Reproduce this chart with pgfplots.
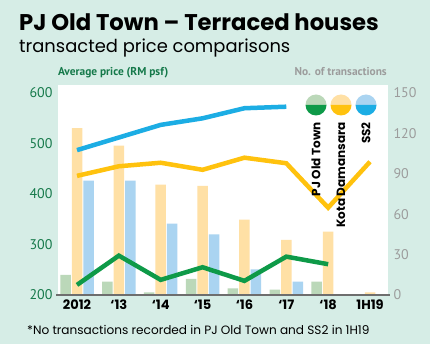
\documentclass[border=0pt]{standalone}
\usepackage{pgfplots}
\pgfplotsset{compat=1.18}
\usepackage{fontspec}
\setmainfont{Poppins}
\newfontfamily\tickfont{PT Sans}
\definecolor{bgc}{HTML}{D6EDE6}
\definecolor{cGline}{HTML}{0E9A48}
\definecolor{cGbar}{HTML}{BBD8B9}
\definecolor{cYline}{HTML}{FFC20E}
\definecolor{cYbar}{HTML}{FFE0A5}
\definecolor{cBline}{HTML}{1CADE4}
\definecolor{cBbar}{HTML}{AAD4F1}
\definecolor{gtick}{HTML}{15794A}
\definecolor{graytxt}{HTML}{9C9C9C}
\definecolor{axisgray}{HTML}{6E6E6E}
\begin{document}
\begin{tikzpicture}
\fill[bgc] (0pt,0pt) rectangle (430pt,-344pt);
% titles
\node[anchor=base west,inner sep=0pt,font=\fontsize{22.7}{24}\selectfont\bfseries] at (19pt,-31pt) {PJ Old Town – Terraced houses};
\node[anchor=base west,inner sep=0pt,font=\fontsize{17.9}{20}\selectfont] at (19pt,-53pt) {transacted price comparisons};
\node[anchor=base west,inner sep=0pt,text=gtick,font=\tickfont\fontsize{11.4}{12}\selectfont\bfseries] at (58pt,-76pt) {Average price (RM psf)};
\node[anchor=base east,inner sep=0pt,text=graytxt,font=\tickfont\fontsize{11.4}{12}\selectfont\bfseries] at (387pt,-76pt) {No. of transactions};
% bars (right axis)
\begin{axis}[at={(58pt,-295pt)},anchor=south west,scale only axis,
  width=330pt,height=210pt,
  xmin=-0.454,xmax=7.43,ymin=0,ymax=156,
  axis background/.style={fill=white},
  axis line style={draw=none},major tick length=0pt,
  xtick=\empty,
  ytick={0,30,60,90,120,150},
  yticklabel pos=right,
  /pgf/number format/assume math mode=true,
  yticklabel style={font=\tickfont\fontsize{14}{14}\selectfont,text=graytxt,xshift=2pt},
  ybar,bar width=10.5pt,clip=false]
\addplot[fill=cGbar,draw=none,bar shift=-11.5pt] coordinates {(0,15)(1,10)(2,2)(3,12)(4,5)(5,4)(6,10)};
\addplot[fill=cYbar,draw=none,bar shift=0pt] coordinates {(0,124)(1,111)(2,82)(3,81)(4,56)(5,41)(6,47)(7,2)};
\addplot[fill=cBbar,draw=none,bar shift=11.5pt] coordinates {(0,85)(1,85)(2,53)(3,45)(4,19)(5,10)};
\end{axis}
% lines (left axis)
\begin{axis}[at={(58pt,-295pt)},anchor=south west,scale only axis,
  width=330pt,height=210pt,
  xmin=-0.454,xmax=7.43,ymin=200,ymax=616,
  axis line style={draw=none},major tick length=0pt,
  xtick={0,...,7},
  xticklabels={2012,‘13,‘14,‘15,‘16,‘17,‘18,1H19},
  xticklabel style={font=\fontsize{13}{13}\selectfont\bfseries,text=black,yshift=-1pt},
  ytick={200,300,400,500,600},
  /pgf/number format/assume math mode=true,
  yticklabel style={font=\tickfont\fontsize{14}{14}\selectfont,text=gtick,xshift=-2pt},
  clip=false]
\draw[axisgray,line width=2pt] (rel axis cs:-0.006,0) -- (rel axis cs:1.006,0);
\addplot[cBline,line width=4.5pt] coordinates {(0,487)(1,512)(2,537)(3,550)(4,570)(5,573)};
\addplot[cYline,line width=4.5pt] coordinates {(0,436)(1,455)(2,462)(3,448)(4,472)(5,461)(6,373)(7,464)};
\addplot[cGline,line width=4.5pt] coordinates {(0,220)(1,278)(2,230)(3,255)(4,228)(5,276)(6,261)};
\end{axis}
% legend
\foreach \cx/\lc/\dc/\lab in {316/cGbar/cGline/PJ Old Town,341/cYbar/cYline/Kota Damansara,366/cBbar/cBline/SS2}{
  \fill[\lc] (\cx pt-10.5pt,-105pt) arc (180:0:10.5pt) -- cycle;
  \fill[\dc] (\cx pt-10.5pt,-105pt) arc (180:360:10.5pt) -- cycle;
  \node[rotate=90,anchor=east,inner sep=0pt,font=\fontsize{12}{12}\selectfont\bfseries] at (\cx pt,-122pt) {\lab};
}
\node[anchor=base west,inner sep=0pt,font=\fontsize{12.1}{13}\selectfont] at (27pt,-334pt) {*No transactions recorded in PJ Old Town and SS2 in 1H19};
\end{tikzpicture}
\end{document}
